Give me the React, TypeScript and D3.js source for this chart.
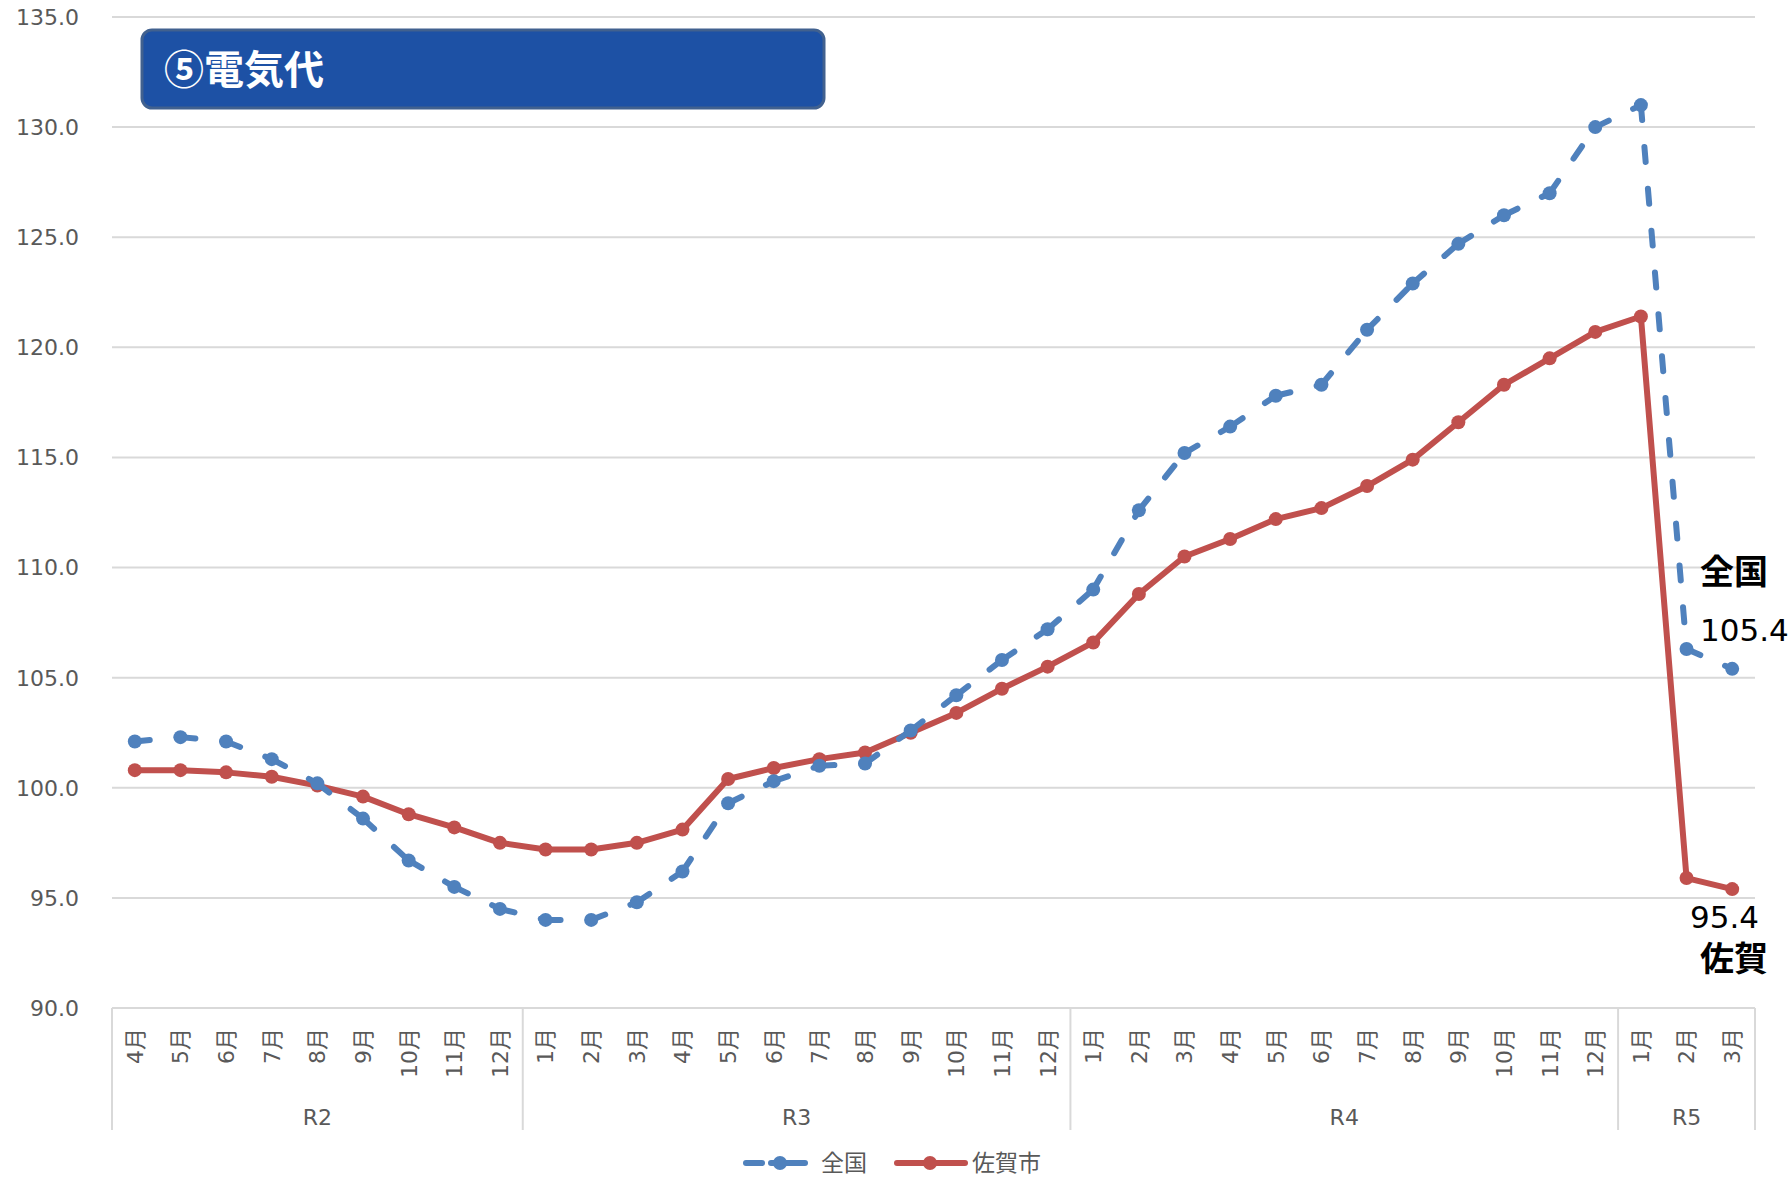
import React from 'react';
import * as d3 from 'd3';

// month labels per era
const months = [
  '4月', '5月', '6月', '7月', '8月', '9月', '10月', '11月', '12月',
  '1月', '2月', '3月', '4月', '5月', '6月', '7月', '8月', '9月', '10月', '11月', '12月',
  '1月', '2月', '3月', '4月', '5月', '6月', '7月', '8月', '9月', '10月', '11月', '12月',
  '1月', '2月', '3月',
];
const eraLabels = ['R2', 'R3', 'R4', 'R5'];
const eraCounts = [9, 12, 12, 3];

const zenkoku = [
  102.1, 102.3, 102.1, 101.3, 100.2, 98.6, 96.7, 95.5, 94.5,
  94.0, 94.0, 94.8, 96.2, 99.3, 100.3, 101.0, 101.1, 102.6, 104.2, 105.8, 107.2,
  109.0, 112.6, 115.2, 116.4, 117.8, 118.3, 120.8, 122.9, 124.7, 126.0, 127.0, 130.0,
  131.0, 106.3, 105.4,
];
const sagaShi = [
  100.8, 100.8, 100.7, 100.5, 100.1, 99.6, 98.8, 98.2, 97.5,
  97.2, 97.2, 97.5, 98.1, 100.4, 100.9, 101.3, 101.6, 102.5, 103.4, 104.5, 105.5,
  106.6, 108.8, 110.5, 111.3, 112.2, 112.7, 113.7, 114.9, 116.6, 118.3, 119.5, 120.7,
  121.4, 95.9, 95.4,
];
const yTicks = [90, 95, 100, 105, 110, 115, 120, 125, 130, 135];

const W = 1790;
const H = 1179;
const left = 112;
const right = 1755;
const top = 17;
const bottom = 1008;

const BLUE = '#4F81BD';
const RED = '#C0504D';
const GRID = '#D9D9D9';
const TEXT = '#595959';
const NUM_FONT = '"DejaVu Sans", "Noto Sans CJK JP", sans-serif';
const JP_FONT = '"Noto Sans CJK JP", "DejaVu Sans", sans-serif';

export default function App() {
  const idx = months.map((_, i) => i);
  const x = d3.scaleBand<number>().domain(idx).range([left, right]).padding(0);
  const cx = (i: number) => (x(i) as number) + x.bandwidth() / 2;
  const y = d3.scaleLinear().domain([90, 135]).range([bottom, top]);

  const line = d3.line<number>().x((_, i) => cx(i)).y(d => y(d));
  const seg = d3.line<[number, number]>().x(d => cx(d[0])).y(d => y(d[1]));

  // era boundaries
  const bounds: number[] = [0];
  eraCounts.forEach(c => bounds.push(bounds[bounds.length - 1] + c));
  const bx = (k: number) => (k >= months.length ? right : (x(k) as number));

  const legendY = 1163;

  return (
    <div style={{ position: 'absolute', left: 0, top: 0 }}>
      <svg width={W} height={H} style={{ display: 'block', background: '#fff' }}>
        {/* gridlines + y labels */}
        {yTicks.map(t => (
          <g key={t}>
            <line x1={left} x2={right} y1={y(t)} y2={y(t)} stroke={GRID} strokeWidth={2} />
            <text x={79} y={y(t)} dy="0.36em" textAnchor="end" fontFamily={NUM_FONT}
              fontSize={22} fill={TEXT}>{t.toFixed(1)}</text>
          </g>
        ))}

        {/* era separators */}
        {bounds.map((b, k) => (
          <line key={k} x1={bx(b)} x2={bx(b)} y1={bottom} y2={1130} stroke={GRID} strokeWidth={2} />
        ))}

        {/* month labels */}
        {months.map((m, i) => (
          <text key={i} transform={`translate(${cx(i)},1028) rotate(-90)`} dy="0.36em"
            textAnchor="end" fontFamily={NUM_FONT} fontSize={22} fill={TEXT}>{m}</text>
        ))}

        {/* era labels */}
        {eraLabels.map((e, k) => (
          <text key={e} x={(bx(bounds[k]) + bx(bounds[k + 1])) / 2} y={1125}
            textAnchor="middle" fontFamily={NUM_FONT} fontSize={22} fill={TEXT}>{e}</text>
        ))}

        {/* title box */}
        <rect x={142} y={30} width={682} height={78} rx={10} ry={10}
          fill="#1D51A5" stroke="#41618F" strokeWidth={3} />
        <text x={164} y={84} fontFamily={JP_FONT} fontWeight="bold" fontSize={40} fill="#fff">⑤電気代</text>

        {/* 佐賀市 line */}
        <path d={line(sagaShi) || ''} fill="none" stroke={RED} strokeWidth={6} strokeLinejoin="round" />
        {sagaShi.map((v, i) => (
          <circle key={i} cx={cx(i)} cy={y(v)} r={7} fill={RED} />
        ))}

        {/* 全国 dashed line, dash pattern restarts on each segment */}
        {zenkoku.slice(1).map((v, i) => (
          <path key={i} d={seg([[i, zenkoku[i]], [i + 1, v]]) || ''} fill="none" stroke={BLUE}
            strokeWidth={6} strokeDasharray="15,27" strokeLinecap="round" />
        ))}
        {zenkoku.map((v, i) => (
          <circle key={i} cx={cx(i)} cy={y(v)} r={7} fill={BLUE} />
        ))}

        {/* end annotations */}
        <text x={1700} y={584} fontFamily={JP_FONT} fontWeight="bold" fontSize={34} fill="#000">全国</text>
        <text x={1700} y={641} fontFamily={NUM_FONT} fontSize={31} fill="#000">{zenkoku[zenkoku.length - 1].toFixed(1)}</text>
        <text x={1690} y={928} fontFamily={NUM_FONT} fontSize={31} fill="#000">{sagaShi[sagaShi.length - 1].toFixed(1)}</text>
        <text x={1700} y={971} fontFamily={JP_FONT} fontWeight="bold" fontSize={34} fill="#000">佐賀</text>

        {/* legend */}
        <g>
          <line x1={746} x2={762} y1={legendY} y2={legendY} stroke={BLUE} strokeWidth={6} strokeLinecap="round" />
          <line x1={771} x2={805} y1={legendY} y2={legendY} stroke={BLUE} strokeWidth={6} strokeLinecap="round" />
          <circle cx={780} cy={legendY} r={7} fill={BLUE} />
          <text x={821} y={legendY} dy="0.36em" fontFamily={JP_FONT} fontSize={23} fill={TEXT}>全国</text>
          <line x1={897} x2={965} y1={legendY} y2={legendY} stroke={RED} strokeWidth={6} strokeLinecap="round" />
          <circle cx={930} cy={legendY} r={7} fill={RED} />
          <text x={972} y={legendY} dy="0.36em" fontFamily={JP_FONT} fontSize={23} fill={TEXT}>佐賀市</text>
        </g>
      </svg>
    </div>
  );
}
